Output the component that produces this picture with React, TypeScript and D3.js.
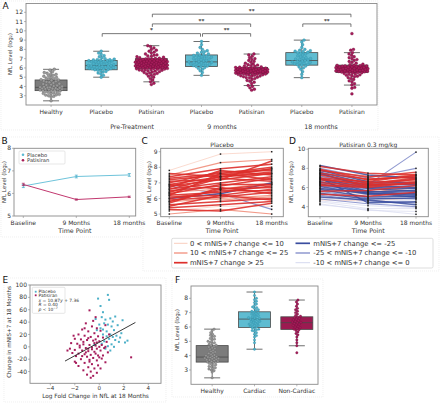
import React from 'react';
import * as d3 from 'd3';

const FONT = 'DejaVu Sans, Verdana, sans-serif';
const TEAL = '#5fbcd1';
const TEAL_PT = '#4cb0c8';
const TEAL_ED = '#2d889f';
const CRIM = '#9c1a51';
const CRIM_PT = '#a61c5b';
const CRIM_ED = '#6e0f38';
const GRAY = '#7c7c7c';
const GRAY_PT = '#9a9a9a';
const GRAY_ED = '#5a5a5a';
const EDGE = '#4a4a4a';
const FRAME = '#8a8a8a';
const TXT = '#333';

// ---------- Panel A data ----------
const aCats = ['Healthy', 'Placebo', 'Patisiran', 'Placebo', 'Patisiran', 'Placebo', 'Patisiran'];
const aGroups = ['Pre-Treatment', '9 months', '18 months'];
const aKinds = ['h', 'p', 't', 'p', 't', 'p', 't'];
// [lower whisker, q1, median, q3, upper whisker]
const aBoxes = [
  [2.45, 3.55, 3.9, 4.7, 5.85],
  [5.0, 5.8, 6.25, 6.8, 7.8],
  [4.5, 5.95, 6.4, 7.0, 8.4],
  [5.2, 6.15, 6.65, 7.4, 8.85],
  [4.1, 5.35, 5.8, 6.05, 7.5],
  [4.95, 6.3, 6.8, 7.65, 9.0],
  [4.15, 5.5, 5.85, 6.3, 7.65],
];
const healthyVals = [2.45, 2.85, 2.95, 3.0, 3.07, 3.1, 3.15, 3.22, 3.25, 3.3, 3.36, 3.4, 3.46, 3.5, 3.53, 3.56, 3.6, 3.62, 3.66, 3.7, 3.72, 3.75, 3.78, 3.8, 3.83, 3.86, 3.88, 3.9, 3.93, 3.96, 4.0, 4.04, 4.1, 4.16, 4.2, 4.26, 4.3, 4.38, 4.45, 4.5, 4.55, 4.6, 4.66, 4.7, 4.73, 4.8, 4.85, 4.9, 4.96, 5.0, 5.1, 5.15, 5.2, 5.3, 5.35, 5.42, 5.5, 5.6, 5.75, 5.85];
const placeboPre = [5.0, 5.2, 5.35, 5.45, 5.55, 5.62, 5.7, 5.76, 5.8, 5.83, 5.86, 5.9, 5.93, 5.96, 6.0, 6.03, 6.06, 6.1, 6.13, 6.16, 6.2, 6.22, 6.25, 6.28, 6.31, 6.35, 6.38, 6.41, 6.45, 6.5, 6.55, 6.6, 6.63, 6.66, 6.7, 6.73, 6.76, 6.78, 6.8, 6.83, 6.86, 6.88, 6.9, 6.95, 7.0, 7.1, 7.2, 7.32, 7.45, 7.6, 7.8];
const patisiranPre = [4.2, 4.35, 4.5, 4.7, 4.85, 5.0, 5.1, 5.2, 5.3, 5.35, 5.41, 5.45, 5.5, 5.56, 5.6, 5.65, 5.7, 5.72, 5.75, 5.78, 5.8, 5.83, 5.85, 5.88, 5.9, 5.92, 5.95, 5.97, 6.0, 6.02, 6.04, 6.07, 6.08, 6.1, 6.12, 6.15, 6.16, 6.18, 6.2, 6.22, 6.25, 6.26, 6.28, 6.3, 6.32, 6.34, 6.36, 6.38, 6.4, 6.42, 6.44, 6.46, 6.48, 6.5, 6.52, 6.54, 6.56, 6.58, 6.6, 6.62, 6.64, 6.66, 6.68, 6.7, 6.72, 6.74, 6.76, 6.78, 6.8, 6.82, 6.85, 6.88, 6.9, 6.92, 6.95, 6.98, 7.0, 7.02, 7.05, 7.1, 7.15, 7.2, 7.25, 7.3, 7.36, 7.4, 7.5, 7.6, 7.7, 7.8, 7.9, 8.0, 8.15, 8.3, 8.4];
const placebo9 = [5.2, 5.5, 5.7, 5.85, 5.95, 6.05, 6.1, 6.15, 6.2, 6.25, 6.3, 6.35, 6.4, 6.42, 6.48, 6.5, 6.55, 6.6, 6.62, 6.65, 6.7, 6.75, 6.8, 6.85, 6.9, 6.95, 7.0, 7.05, 7.1, 7.15, 7.2, 7.25, 7.3, 7.35, 7.4, 7.45, 7.5, 7.6, 7.7, 7.75, 7.85, 8.0, 8.2, 8.5, 8.85];
const patisiran9 = [3.6, 3.7, 3.85, 4.0, 4.1, 4.3, 4.45, 4.55, 4.65, 4.75, 4.85, 4.9, 4.95, 5.0, 5.05, 5.1, 5.12, 5.15, 5.2, 5.22, 5.25, 5.28, 5.3, 5.32, 5.35, 5.38, 5.4, 5.42, 5.45, 5.48, 5.5, 5.52, 5.55, 5.58, 5.6, 5.62, 5.64, 5.66, 5.68, 5.7, 5.72, 5.74, 5.76, 5.78, 5.8, 5.82, 5.84, 5.86, 5.88, 5.9, 5.92, 5.94, 5.96, 5.98, 6.0, 6.02, 6.05, 6.08, 6.1, 6.15, 6.2, 6.25, 6.3, 6.35, 6.4, 6.5, 6.6, 6.7, 6.8, 6.9, 7.0, 7.1, 7.25, 7.4, 7.5];
const placebo18 = [4.95, 5.3, 5.6, 5.85, 6.0, 6.1, 6.2, 6.3, 6.35, 6.4, 6.45, 6.5, 6.55, 6.6, 6.65, 6.7, 6.75, 6.8, 6.85, 6.9, 6.95, 7.0, 7.05, 7.1, 7.2, 7.3, 7.4, 7.5, 7.6, 7.65, 7.7, 7.75, 7.8, 7.85, 7.9, 8.0, 8.2, 8.5, 8.8, 9.0];
const patisiran18 = [3.2, 3.8, 3.9, 4.15, 4.3, 4.5, 4.6, 4.75, 4.85, 4.95, 5.05, 5.1, 5.15, 5.2, 5.25, 5.3, 5.35, 5.4, 5.45, 5.48, 5.5, 5.52, 5.55, 5.58, 5.6, 5.62, 5.64, 5.66, 5.68, 5.7, 5.72, 5.74, 5.76, 5.78, 5.8, 5.82, 5.84, 5.86, 5.88, 5.9, 5.92, 5.94, 5.96, 5.98, 6.0, 6.02, 6.05, 6.08, 6.1, 6.12, 6.15, 6.18, 6.2, 6.22, 6.25, 6.28, 6.3, 6.35, 6.4, 6.5, 6.6, 6.7, 6.8, 6.9, 7.0, 7.1, 7.2, 7.35, 7.5, 7.65, 7.9, 8.0, 9.7];
const aVals = [healthyVals, placeboPre, patisiranPre, placebo9, patisiran9, placebo18, patisiran18];
// significance bars: [from cat, to cat, level, label]
const sigBars: [number, number, number, string][] = [
  [1, 3, 9.7, '*'], [3, 4, 9.7, '**'], [2, 4, 10.75, '**'], [5, 6, 10.75, '**'], [2, 6, 11.8, '**'],
];

// ---------- Panel B data ----------
const timeLabels = ['Baseline', '9 Months', '18 months'];
const bPlaceboMean = [6.33, 6.75, 6.82];
const bPlaceboErr = [0.07, 0.06, 0.06];
const bPatMean = [6.4, 5.73, 5.85];
const bPatErr = [0.05, 0.03, 0.03];

// ---------- Panel C / D data: [baseline, 9 months, 18 months, mNIS+7 class] ----------
const cTraj: [number, number, number, string][] = [
  [7.8, 8.85, 9.0, 'r1'], [7.5, 8.3, 8.5, 'r2'], [7.4, 7.9, 8.2, 'r3'], [7.3, 7.6, 8.0, 'r3'],
  [7.2, 7.5, 7.9, 'r3'], [7.0, 7.7, 7.8, 'r3'], [6.9, 7.4, 7.7, 'r3'], [6.8, 7.2, 7.6, 'r3'],
  [6.7, 7.8, 7.5, 'r3'], [6.6, 7.0, 7.4, 'r3'], [6.5, 6.8, 7.3, 'r3'], [6.4, 7.3, 7.1, 'r3'],
  [6.4, 6.6, 7.0, 'r2'], [6.3, 6.9, 6.9, 'r3'], [6.2, 6.4, 6.8, 'r3'], [6.1, 6.2, 6.6, 'r3'],
  [6.0, 6.5, 6.5, 'r3'], [5.9, 6.1, 6.4, 'r3'], [5.8, 6.0, 6.2, 'r2'], [5.7, 6.7, 6.3, 'r3'],
  [5.6, 5.8, 6.0, 'r3'], [5.5, 6.2, 5.9, 'r3'], [5.4, 5.6, 5.8, 'r3'], [5.3, 5.2, 5.7, 'r3'],
  [5.2, 5.5, 5.5, 'r1'], [5.0, 5.3, 5.0, 'r2'], [7.1, 7.2, 8.4, 'r3'], [6.6, 7.4, 7.6, 'r3'],
  [6.9, 6.6, 6.7, 'r3'], [6.2, 7.6, 7.2, 'r3'], [7.6, 7.4, 7.9, 'r3'], [6.3, 5.9, 6.1, 'r2'],
  [5.8, 6.6, 6.9, 'r3'], [6.0, 6.3, 7.0, 'b3'], [6.8, 6.3, 5.3, 'b2'],
];
const dTraj: [number, number, number, string][] = [
  [4.3, 3.6, 3.5, 'b1'], [4.2, 3.7, 3.2, 'b1'], [4.5, 3.8, 3.8, 'b1'], [4.6, 4.1, 3.9, 'b1'],
  [4.9, 4.5, 4.7, 'b1'], [5.1, 4.9, 5.2, 'b1'], [5.7, 5.6, 5.8, 'b1'], [6.5, 5.7, 5.8, 'b1'],
  [6.0, 5.2, 5.3, 'b1'], [6.4, 6.0, 6.3, 'b1'], [7.4, 7.0, 6.8, 'b1'], [7.1, 6.7, 6.6, 'r1'],
  [6.3, 5.9, 6.1, 'r1'], [5.5, 5.3, 5.6, 'r1'], [4.7, 4.6, 4.9, 'r1'], [7.7, 7.2, 6.9, 'r2'],
  [6.7, 6.1, 6.7, 'r2'], [5.9, 5.5, 6.0, 'r2'], [6.6, 6.8, 7.4, 'r2'], [8.0, 7.0, 8.0, 'b2'],
  [7.2, 6.0, 6.2, 'b2'], [6.8, 5.8, 5.9, 'b2'], [6.2, 5.6, 5.5, 'b2'], [6.6, 6.3, 9.7, 'b2'],
  [5.6, 4.9, 4.8, 'b2'], [5.2, 4.6, 4.4, 'b2'], [4.8, 4.3, 4.0, 'b2'], [7.2, 6.3, 6.4, 'b2'],
  [8.3, 7.3, 7.0, 'b3'], [7.8, 6.6, 6.5, 'b3'], [7.6, 6.4, 6.3, 'b3'], [7.4, 6.2, 6.0, 'b3'],
  [7.0, 5.9, 5.6, 'b3'], [7.0, 4.4, 4.5, 'b3'], [6.6, 5.5, 5.7, 'b3'], [6.4, 5.4, 5.2, 'b3'],
  [6.1, 5.3, 5.4, 'b3'], [5.8, 5.0, 5.1, 'b3'], [5.4, 4.8, 4.9, 'b3'], [5.0, 4.7, 4.2, 'b3'],
  [7.5, 6.0, 5.9, 'b3'], [6.9, 5.6, 5.3, 'b3'], [5.9, 5.4, 5.0, 'b3'],
  [8.2, 7.5, 7.3, 'r3'], [7.9, 6.8, 7.2, 'r3'], [7.5, 6.9, 7.1, 'r3'], [7.3, 6.5, 6.8, 'r3'],
  [6.9, 6.3, 6.4, 'r3'], [6.5, 6.2, 6.9, 'r3'], [6.2, 6.0, 6.5, 'r3'], [5.3, 5.1, 5.5, 'r3'],
  [7.8, 7.1, 7.6, 'r3'], [7.0, 6.6, 7.3, 'r3'], [6.8, 6.4, 7.0, 'r3'], [6.3, 6.1, 6.6, 'r3'],
  [5.6, 5.7, 6.2, 'r3'],
];
const lineStyles: Record<string, { c: string; w: number }> = {
  r1: { c: '#f9cdbd', w: 0.8 }, r2: { c: '#f18f7c', w: 1.1 }, r3: { c: '#dd2f2b', w: 1.5 },
  b1: { c: '#d6d9ef', w: 0.8 }, b2: { c: '#7e88c8', w: 1.1 }, b3: { c: '#3a4d9f', w: 1.5 },
};
const legLeft: [string, string][] = [['r1', '0 < mNIS+7 change <= 10'], ['r2', '10 < mNIS+7 change <= 25'], ['r3', 'mNIS+7 change > 25']];
const legRight: [string, string][] = [['b3', 'mNIS+7 change <= -25'], ['b2', '-25 < mNIS+7 change <= -10'], ['b1', '-10 < mNIS+7 change <= 0']];

// ---------- Panel E data: [log fold change, mNIS+7 change] ----------
const ePlacebo: [number, number][] = [
  [-0.1, 78], [0.7, 84], [0.8, 76], [0.1, 66], [0.3, 56], [-0.3, 45], [0.2, 48], [0.5, 44], [0.9, 46],
  [1.3, 49], [1.9, 43], [1.1, 41], [0.0, 36], [0.4, 38], [0.7, 36], [1.0, 33], [1.5, 35], [0.1, 30],
  [-0.2, 27], [0.3, 28], [0.6, 25], [1.2, 27], [0.9, 20], [1.4, 18], [1.1, 16], [1.7, 15], [0.6, 17],
  [0.8, 13], [1.3, 11], [0.4, 9], [1.6, 8], [2.1, 7], [0.2, 5], [1.0, 4], [0.7, 1], [1.2, 0],
  [-0.4, 3], [0.5, -3], [0.9, -6], [1.8, 22], [2.3, 10], [0.3, 20],
];
const ePatisiran: [number, number][] = [
  [-0.8, 59], [-0.3, 48], [0.5, 35], [-1.1, 38], [-0.6, 33], [-0.2, 30], [-1.4, 28], [-0.9, 25], [0.1, 26],
  [-0.4, 22], [-1.7, 20], [-1.2, 18], [-0.7, 16], [-0.1, 17], [0.3, 15], [-2.0, 13], [-1.5, 12], [-1.0, 11],
  [-0.5, 10], [0.0, 9], [0.6, 8], [-2.3, 6], [-1.8, 5], [-1.3, 4], [-0.8, 3], [-0.3, 2], [0.2, 3],
  [-2.6, -6], [-1.6, -1], [-1.1, -2], [-0.6, -1], [-0.2, -3], [0.4, -2], [-2.0, -5], [-1.4, -6], [-0.9, -7],
  [-0.4, -8], [0.1, -6], [0.7, -9], [-2.2, -10], [-1.7, -11], [-1.2, -12], [-0.7, -13], [-0.3, -11], [0.3, -14],
  [-1.9, -15], [-1.0, -16], [-0.5, -18], [0.0, -17], [-1.5, -20], [-0.8, -21], [-0.2, -22], [0.5, -25], [-2.0, -24],
  [-1.2, -26], [-0.6, -28], [-0.1, -30], [-1.7, -31], [-0.9, -33], [-0.4, -35], [-1.3, -38], [-0.7, -40], [-0.2, -42],
  [-1.0, -45], [-0.5, -47], [-0.7, -50], [2.6, -17], [-1.3, 8], [-0.9, 14], [-0.4, 6], [-0.6, -4], [-1.1, -9],
  [0.0, 0], [-0.3, 12], [-1.6, 2], [-0.1, -14], [0.2, -19], [-0.8, -24], [-1.4, -15], [-2.4, -3], [0.8, 20],
  [0.5, 0], [-1.9, -26], [-1.2, 30], [-0.5, 42], [0.1, -35], [-2.1, 18], [-0.9, -3], [-0.2, 7],
];
const eFit = { slope: 10.87, intercept: 7.36, xFrom: -2.8, xTo: 2.95 };

// ---------- Panel F data ----------
const fCats = ['Healthy', 'Cardiac', 'Non-Cardiac'];
const fKinds = ['h', 'p', 't'];
const fBoxes = [
  [2.45, 3.55, 3.9, 4.7, 5.85],
  [4.45, 5.97, 6.55, 7.06, 8.44],
  [4.69, 5.83, 6.3, 6.71, 7.88],
];
const cardiacVals = [4.45, 4.9, 5.1, 5.3, 5.4, 5.5, 5.6, 5.7, 5.75, 5.8, 5.85, 5.9, 5.95, 6.0, 6.05, 6.1, 6.12, 6.18, 6.2, 6.25, 6.3, 6.33, 6.38, 6.4, 6.45, 6.5, 6.52, 6.55, 6.6, 6.62, 6.65, 6.7, 6.75, 6.8, 6.85, 6.9, 6.95, 7.0, 7.05, 7.1, 7.15, 7.2, 7.3, 7.35, 7.4, 7.5, 7.6, 7.7, 7.8, 7.9, 8.0, 8.2, 8.44];
const nonCardiacVals = [4.2, 4.69, 4.9, 5.1, 5.3, 5.45, 5.55, 5.65, 5.75, 5.8, 5.85, 5.9, 5.95, 6.0, 6.05, 6.1, 6.15, 6.2, 6.25, 6.3, 6.32, 6.35, 6.4, 6.45, 6.5, 6.55, 6.6, 6.65, 6.7, 6.75, 6.8, 6.9, 7.0, 7.1, 7.2, 7.3, 7.45, 7.6, 7.75, 7.88];
const fVals = [healthyVals, cardiacVals, nonCardiacVals];

// ---------- helpers ----------
function swarm(vals: number[], y: (v: number) => number, r: number, maxW: number) {
  const idx = vals.map((_, i) => i).sort((a, b) => vals[a] - vals[b]);
  const placed: { x: number; y: number }[] = [];
  const out: { x: number; y: number }[] = new Array(vals.length);
  const d = 2 * r;
  for (const i of idx) {
    const py = y(vals[i]);
    const near = placed.filter((p) => Math.abs(p.y - py) < d);
    const cands = [0];
    for (const p of near) {
      const dx = Math.sqrt(Math.max(0, d * d - (p.y - py) ** 2));
      cands.push(p.x + dx + 0.01, p.x - dx - 0.01);
    }
    cands.sort((a, b) => Math.abs(a) - Math.abs(b));
    let chosen: number | null = null;
    for (const c of cands) {
      if (Math.abs(c) > maxW) break;
      if (near.every((p) => (p.x - c) ** 2 + (p.y - py) ** 2 >= d * d - 0.02)) { chosen = c; break; }
    }
    if (chosen === null) {
      let best = 0, bestD = -1;
      for (let c = -maxW; c <= maxW + 1e-6; c += 0.4) {
        const md = Math.min(...near.map((p) => (p.x - c) ** 2 + (p.y - py) ** 2));
        if (md > bestD) { bestD = md; best = c; }
      }
      chosen = best;
    }
    placed.push({ x: chosen, y: py });
    out[i] = { x: chosen, y: py };
  }
  return out;
}

const kindStyle: Record<string, { box: string; pt: string; ed: string }> = {
  h: { box: GRAY, pt: GRAY_PT, ed: GRAY_ED },
  p: { box: TEAL, pt: TEAL_PT, ed: TEAL_ED },
  t: { box: CRIM, pt: CRIM_PT, ed: CRIM_ED },
};

function BoxSwarm({ cx, w, y, st, vals, kind, r, maxW }: any) {
  const ks = kindStyle[kind];
  const pts = swarm(vals, y, r, maxW);
  return (
    <g>
      <line x1={cx} x2={cx} y1={y(st[0])} y2={y(st[1])} stroke={EDGE} strokeWidth={0.8} />
      <line x1={cx} x2={cx} y1={y(st[3])} y2={y(st[4])} stroke={EDGE} strokeWidth={0.8} />
      <line x1={cx - w / 4} x2={cx + w / 4} y1={y(st[0])} y2={y(st[0])} stroke={EDGE} strokeWidth={0.8} />
      <line x1={cx - w / 4} x2={cx + w / 4} y1={y(st[4])} y2={y(st[4])} stroke={EDGE} strokeWidth={0.8} />
      <rect x={cx - w / 2} y={y(st[3])} width={w} height={y(st[1]) - y(st[3])} fill={ks.box} stroke={EDGE} strokeWidth={0.8} />
      <line x1={cx - w / 2} x2={cx + w / 2} y1={y(st[2])} y2={y(st[2])} stroke={EDGE} strokeWidth={0.8} />
      {pts.map((p, i) => (
        <circle key={i} cx={cx + p.x} cy={p.y} r={r} fill={ks.pt} stroke={ks.ed} strokeWidth={0.3} />
      ))}
    </g>
  );
}

function YAxis({ x, y, ticks, fs = 6, fmt }: any) {
  return (
    <g>
      {ticks.map((t: number) => (
        <g key={t}>
          <line x1={x - 2} x2={x} y1={y(t)} y2={y(t)} stroke={FRAME} strokeWidth={0.6} />
          <text x={x - 3} y={y(t) + fs * 0.35} fontSize={fs} textAnchor="end" fill={TXT}>{fmt ? fmt(t) : t}</text>
        </g>
      ))}
    </g>
  );
}

function XTicks({ xs, y0, labels, fs = 6, off = 2.5 }: any) {
  return (
    <g>
      {xs.map((x: number, i: number) => (
        <g key={i}>
          <line x1={x} x2={x} y1={y0} y2={y0 + 2} stroke={FRAME} strokeWidth={0.6} />
          <text x={x} y={y0 + off + fs} fontSize={fs} textAnchor="middle" fill={TXT}>{labels[i]}</text>
        </g>
      ))}
    </g>
  );
}

function Frame({ x0, x1, y0, y1 }: any) {
  return <rect x={x0} y={y0} width={x1 - x0} height={y1 - y0} fill="none" stroke={FRAME} strokeWidth={0.9} />;
}

function YLabel({ x, cy, text, fs = 5.5 }: any) {
  return (
    <text transform={`translate(${x},${cy}) rotate(-90)`} fontSize={fs} textAnchor="middle" fill={TXT}>{text}</text>
  );
}

export default function App() {
  // Panel A
  const A = { x0: 26, x1: 377, y0: 3.5, y1: 105 };
  const xA = d3.scaleBand<number>().domain(d3.range(7)).range([A.x0, A.x1]);
  const cxA = (i: number) => (xA(i) as number) + xA.bandwidth() / 2;
  const yA = d3.scaleLinear().domain([2.0, 12.95]).range([A.y1, A.y0]);
  const groupX = [132, 222, 321];

  // Panel B
  const B = { x0: 14, x1: 135.7, y0: 148.3, y1: 216 };
  const xB = d3.scaleLinear().domain([0, 2]).range([23.3, 129.3]);
  const yB = d3.scaleLinear().domain([5, 8]).range([B.y1, B.y0]);

  // Panel C
  const C = { x0: 160.7, x1: 283.3, y0: 148.3, y1: 216.7 };
  const xC = d3.scaleLinear().domain([0, 2]).range([169.3, 271.7]);
  const yC = d3.scaleLinear().domain([4.83, 9.22]).range([C.y1, C.y0]);

  // Panel D
  const D = { x0: 308.3, x1: 428.3, y0: 148.3, y1: 216.7 };
  const xD = d3.scaleLinear().domain([0, 2]).range([320, 416]);
  const yD = d3.scaleLinear().domain([2.95, 10.1]).range([D.y1, D.y0]);

  // Panel E
  const E = { x0: 30, x1: 161, y0: 285, y1: 383.3 };
  const xE = d3.scaleLinear().domain([-5.66, 5.04]).range([E.x0, E.x1]);
  const yE = d3.scaleLinear().domain([-59, 100]).range([E.y1, E.y0]);

  // Panel F
  const F = { x0: 191, x1: 318, y0: 286, y1: 384.3 };
  const xF = d3.scaleBand<number>().domain(d3.range(3)).range([F.x0, F.x1]);
  const cxF = (i: number) => (xF(i) as number) + xF.bandwidth() / 2;
  const yF = d3.scaleLinear().domain([2.0, 8.86]).range([F.y1, F.y0]);

  const lineGen = (xs: (i: number) => number, ys: (v: number) => number) =>
    d3.line<number>().x((_, i) => xs(i)).y((v) => ys(v));

  const order = ['b1', 'r1', 'b2', 'r2', 'b3', 'r3'];
  const sortTraj = (arr: [number, number, number, string][]) =>
    [...arr].sort((a, b) => order.indexOf(a[3]) - order.indexOf(b[3]));

  const mathFs = 4.4;

  return (
    <svg width={440} height={404} style={{ display: 'block', position: 'absolute', left: 0, top: 0 }} fontFamily={FONT}>
      <rect x={0} y={0} width={440} height={404} fill="#fff" />
      {/* faint panel borders */}
      <g fill="none" stroke="#e6e6e6" strokeWidth={0.6} strokeDasharray="1,1">
        <rect x={1} y={1} width={377} height={129} />
        <rect x={143} y={137} width={296} height={134} />
        <rect x={1} y={137} width={140} height={100} />
        <rect x={4} y={278} width={162} height={124} />
        <rect x={172} y={279} width={151} height={118} />
      </g>

      {/* ================= Panel A ================= */}
      <text x={2.5} y={8.5} fontSize={9} fill="#111">A</text>
      {aCats.map((_, i) => (
        <BoxSwarm key={i} cx={cxA(i)} w={32} y={yA} st={aBoxes[i]} vals={aVals[i]} kind={aKinds[i]} r={1.45} maxW={i === 0 ? 11 : i % 2 === 0 ? 16 : 13} />
      ))}
      {sigBars.map(([a, b, lv, lab], i) => {
        const x1 = cxA(a) + 1, x2 = cxA(b) - 1, yy = yA(lv), yt = yA(lv - 0.33);
        return (
          <g key={i} stroke="#555" strokeWidth={0.8} fill="none">
            <path d={`M${x1},${yt}V${yy}H${x2}V${yt}`} />
            <text x={(x1 + x2) / 2} y={yy - 1.2} fontSize={5.5} textAnchor="middle" fill="#333" stroke="none" fontWeight="bold">{lab}</text>
          </g>
        );
      })}
      <Frame {...A} />
      <YAxis x={A.x0} y={yA} ticks={d3.range(3, 13)} fs={6} />
      <XTicks xs={d3.range(7).map(cxA)} y0={A.y1} labels={aCats} fs={6} />
      {aGroups.map((g, i) => (
        <text key={g} x={groupX[i]} y={129} fontSize={6.3} textAnchor="middle" fill={TXT}>{g}</text>
      ))}
      <YLabel x={12} cy={54} text="NfL Level (log₂)" fs={5.5} />

      {/* ================= Panel B ================= */}
      <text x={1.5} y={143.5} fontSize={9} fill="#111">B</text>
      <Frame {...B} />
      {[[bPlaceboMean, bPlaceboErr, '#6fc4db'], [bPatMean, bPatErr, '#c2386f']].map(([m, e, c]: any, k) => (
        <g key={k}>
          <path d={lineGen(xB, yB)(m) as string} fill="none" stroke={c} strokeWidth={1} />
          {m.map((v: number, i: number) => (
            <g key={i} stroke={k === 0 ? '#3aa6c4' : '#a81d57'} strokeWidth={0.7}>
              <line x1={xB(i)} x2={xB(i)} y1={yB(v - e[i])} y2={yB(v + e[i])} />
              <line x1={xB(i) - 1.5} x2={xB(i) + 1.5} y1={yB(v - e[i])} y2={yB(v - e[i])} />
              <line x1={xB(i) - 1.5} x2={xB(i) + 1.5} y1={yB(v + e[i])} y2={yB(v + e[i])} />
            </g>
          ))}
        </g>
      ))}
      <YAxis x={B.x0} y={yB} ticks={[5, 6, 7, 8]} fs={6} />
      <XTicks xs={[0, 1, 2].map(xB)} y0={B.y1} labels={timeLabels} fs={6} />
      <text x={(B.x0 + B.x1) / 2} y={232.5} fontSize={6.3} textAnchor="middle" fill={TXT}>Time Point</text>
      <YLabel x={5.5} cy={182} text="NfL Level (log₂)" fs={5.5} />
      <rect x={19} y={151} width={46} height={13} fill="#fff" stroke="#ccc" strokeWidth={0.5} rx={1} />
      <circle cx={23} cy={154.7} r={1.3} fill="#5bbad3" />
      <text x={27} y={156.6} fontSize={5.2} fill={TXT}>Placebo</text>
      <circle cx={23} cy={160.2} r={1.3} fill="#a81d57" />
      <text x={27} y={162.1} fontSize={5.2} fill={TXT}>Patisiran</text>

      {/* ================= Panel C ================= */}
      <text x={141.5} y={143.5} fontSize={9} fill="#111">C</text>
      <text x={(C.x0 + C.x1) / 2} y={147} fontSize={6} textAnchor="middle" fill={TXT}>Placebo</text>
      {sortTraj(cTraj).map((t, i) => (
        <path key={i} d={lineGen(xC, yC)(t.slice(0, 3) as number[]) as string} fill="none" stroke={lineStyles[t[3]].c} strokeWidth={lineStyles[t[3]].w} strokeOpacity={0.9} />
      ))}
      {cTraj.map((t, i) => [0, 1, 2].map((k) => (
        <rect key={`${i}-${k}`} x={xC(k) - 0.75} y={yC(t[k]) - 0.75} width={1.5} height={1.5} fill="#222" />
      )))}
      <Frame {...C} />
      <YAxis x={C.x0} y={yC} ticks={[5, 6, 7, 8, 9]} fs={6} />
      <XTicks xs={[0, 1, 2].map(xC)} y0={C.y1} labels={timeLabels} fs={6} />
      <text x={(C.x0 + C.x1) / 2} y={232.5} fontSize={6.3} textAnchor="middle" fill={TXT}>Time Point</text>
      <YLabel x={151} cy={182} text="NfL Level (log₂)" fs={5.5} />

      {/* ================= Panel D ================= */}
      <text x={289} y={143.5} fontSize={9} fill="#111">D</text>
      <text x={(D.x0 + D.x1) / 2} y={147} fontSize={6} textAnchor="middle" fill={TXT}>Patisiran 0.3 mg/kg</text>
      {sortTraj(dTraj).map((t, i) => (
        <path key={i} d={lineGen(xD, yD)(t.slice(0, 3) as number[]) as string} fill="none" stroke={lineStyles[t[3]].c} strokeWidth={lineStyles[t[3]].w} strokeOpacity={0.85} />
      ))}
      {dTraj.map((t, i) => [0, 1, 2].map((k) => (
        <rect key={`${i}-${k}`} x={xD(k) - 0.75} y={yD(t[k]) - 0.75} width={1.5} height={1.5} fill="#222" />
      )))}
      <Frame {...D} />
      <YAxis x={D.x0} y={yD} ticks={[4, 6, 8, 10]} fs={6} />
      <XTicks xs={[0, 1, 2].map(xD)} y0={D.y1} labels={timeLabels} fs={6} />
      <text x={(D.x0 + D.x1) / 2} y={232.5} fontSize={6.3} textAnchor="middle" fill={TXT}>Time Point</text>
      <YLabel x={293} cy={182} text="NfL Level (log₂)" fs={5.5} />

      {/* C/D legend */}
      <rect x={171.7} y={238.3} width={261.3} height={29.7} fill="#fff" stroke="#c8c8c8" strokeWidth={0.6} rx={1.5} />
      {legLeft.map(([k, t], i) => (
        <g key={k}>
          <line x1={174} x2={187.5} y1={243.3 + i * 9.7} y2={243.3 + i * 9.7} stroke={lineStyles[k].c} strokeWidth={lineStyles[k].w + 0.2} />
          <text x={190} y={245.7 + i * 9.7} fontSize={6.8} fill={TXT}>{t}</text>
        </g>
      ))}
      {legRight.map(([k, t], i) => (
        <g key={k}>
          <line x1={295.5} x2={310} y1={243.3 + i * 9.7} y2={243.3 + i * 9.7} stroke={lineStyles[k].c} strokeWidth={lineStyles[k].w + 0.2} />
          <text x={313.3} y={245.7 + i * 9.7} fontSize={6.8} fill={TXT}>{t}</text>
        </g>
      ))}

      {/* ================= Panel E ================= */}
      <text x={2.5} y={282.5} fontSize={9} fill="#111">E</text>
      {ePlacebo.map(([x, y], i) => (
        <rect key={`p${i}`} x={xE(x) - 1} y={yE(y) - 1} width={2} height={2} fill={TEAL_PT} />
      ))}
      {ePatisiran.map(([x, y], i) => (
        <rect key={`t${i}`} x={xE(x) - 1} y={yE(y) - 1} width={2} height={2} fill={CRIM_PT} />
      ))}
      <line x1={xE(eFit.xFrom)} x2={xE(eFit.xTo)} y1={yE(eFit.slope * eFit.xFrom + eFit.intercept)} y2={yE(eFit.slope * eFit.xTo + eFit.intercept)} stroke="#222" strokeWidth={0.9} />
      <Frame {...E} />
      <YAxis x={E.x0} y={yE} ticks={d3.range(-40, 101, 20)} fs={6} />
      <XTicks xs={[-4, -2, 0, 2, 4].map(xE)} y0={E.y1} labels={['−4', '−2', '0', '2', '4']} fs={5.5} off={0.8} />
      <text x={(E.x0 + E.x1) / 2} y={397.5} fontSize={5.8} textAnchor="middle" fill={TXT}>Log Fold Change in NfL at 18 Months</text>
      <YLabel x={11} cy={332} text="Change in mNIS+7 at 18 Months" fs={5.6} />
      <rect x={32.3} y={287.3} width={32.7} height={26} fill="#fff" fillOpacity={0.85} stroke="#ccc" strokeWidth={0.5} rx={1} />
      <rect x={34.8} y={290.8} width={1.8} height={1.8} fill={TEAL_PT} />
      <text x={38.5} y={293.2} fontSize={mathFs} fill={TXT}>Placebo</text>
      <rect x={34.8} y={294.4} width={1.8} height={1.8} fill={CRIM_PT} />
      <text x={38.5} y={296.8} fontSize={mathFs} fill={TXT}>Patisiran</text>
      <text x={38.5} y={302} fontSize={mathFs} fill={TXT}><tspan fontStyle="italic">x</tspan> = 10.87<tspan fontStyle="italic">y</tspan> + 7.36</text>
      <text x={38.5} y={306.2} fontSize={mathFs} fill={TXT}><tspan fontStyle="italic">R</tspan> = 0.40</text>
      <text x={38.5} y={310.6} fontSize={mathFs} fill={TXT}><tspan fontStyle="italic">p</tspan> &lt; 10<tspan fontSize={3} dy={-1.5}>−7</tspan></text>

      {/* ================= Panel F ================= */}
      <text x={175} y={282.5} fontSize={9} fill="#111">F</text>
      {fCats.map((_, i) => (
        <BoxSwarm key={i} cx={cxF(i)} w={32} y={yF} st={fBoxes[i]} vals={fVals[i]} kind={fKinds[i]} r={1.2} maxW={8} />
      ))}
      <Frame {...F} />
      <YAxis x={F.x0} y={yF} ticks={[3, 4, 5, 6, 7, 8]} fs={6} />
      <XTicks xs={d3.range(3).map(cxF)} y0={F.y1} labels={fCats} fs={6} />
      <YLabel x={179} cy={330} text="NfL Level (log₂)" fs={5.5} />
    </svg>
  );
}
